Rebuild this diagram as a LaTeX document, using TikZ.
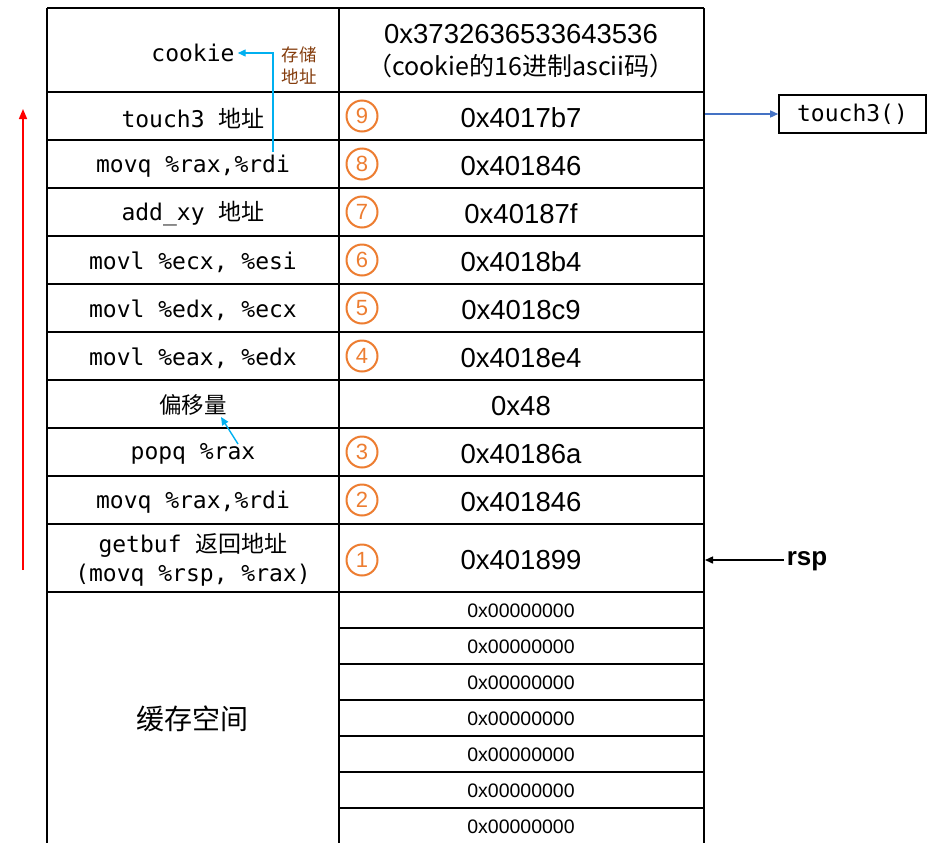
\documentclass[tikz,border=0pt]{standalone}
\usepackage{fontspec}
\setmainfont{Liberation Sans}
\newfontfamily\cjk{Noto Sans CJK SC}
\newfontfamily\mono{DejaVu Sans Mono}
\usetikzlibrary{arrows.meta}
\definecolor{orng}{HTML}{ED7D31}
\definecolor{cyanb}{HTML}{00B0F0}
\definecolor{blueb}{HTML}{4472C4}
\definecolor{brwn}{HTML}{843C0C}
\begin{document}
\begin{tikzpicture}[x=1pt,y=-1pt,
  gridline/.style={line width=1.6pt, black},
  lefttxt/.style={inner sep=3pt, font=\mono\fontsize{23pt}{29pt}\selectfont, align=center},
  hextxt/.style={inner sep=2pt, font=\fontsize{27.5pt}{32pt}\selectfont, align=center},
  zerotxt/.style={inner sep=2pt, font=\fontsize{19.5pt}{24pt}\selectfont},
  numcirc/.style={circle, draw=orng, line width=2pt, text=orng, minimum size=31pt, inner sep=0pt, font=\fontsize{22pt}{24pt}\selectfont},
  cyanarrow/.style={draw=cyanb, line width=1.4pt, -{Triangle[length=8pt,width=7pt]}},
  bluearrow/.style={draw=blueb, line width=1.4pt, -{Triangle[length=8pt,width=7pt]}},
  blackarrow/.style={draw=black, line width=1.5pt, -{Triangle[length=8pt,width=7pt]}},
  redarrow/.style={draw=red, line width=1.6pt, -{Triangle[length=10pt,width=8pt]}}
]
\useasboundingbox (0,0) rectangle (949,857);
\fill[white] (0,0) rectangle (949,857);

% grid
\draw[gridline] (47,8) -- (47,843);
\draw[gridline] (339,8) -- (339,843);
\draw[gridline] (704,8) -- (704,843);
\foreach \yy in {8,92,140,188,236,284,332,380,428,476,524,592}
  \draw[gridline] (47,\yy) -- (704,\yy);
\foreach \yy in {628,664,700,736,772,808}
  \draw[gridline] (339,\yy) -- (704,\yy);

% left column
\node[lefttxt] (cookie) at (193,53) {cookie};
\node[lefttxt] (l9) at (193,118) {touch3 {\cjk 地址}};
\node[lefttxt] (l8) at (193,166) {movq \%rax,\%rdi};
\node[lefttxt] (l7) at (193,214) {add\_xy {\cjk 地址}};
\node[lefttxt] (l6) at (193,262) {movl \%ecx, \%esi};
\node[lefttxt] (l5) at (193,310) {movl \%edx, \%ecx};
\node[lefttxt] (l4) at (193,358) {movl \%eax, \%edx};
\node[lefttxt, font=\cjk\fontsize{22.5pt}{26pt}\selectfont] (offs) at (193,405) {偏移量};
\node[lefttxt] (l3) at (193,454) {popq \%rax};
\node[lefttxt] (l2) at (193,502) {movq \%rax,\%rdi};
\node[lefttxt] (l1) at (193,560) {getbuf {\cjk 返回地址}\\(movq \%rsp, \%rax)};
\node[font=\cjk\fontsize{28pt}{32pt}\selectfont] (buf) at (192,719) {缓存空间};

% right column
\node[hextxt] (ck) at (521,51) {0x3732636533643536\\{\cjk\fontsize{25pt}{32pt}\selectfont （cookie的16进制ascii码）}};
\node[hextxt] (r9) at (521,118) {0x4017b7};
\node[hextxt] (r8) at (521,166) {0x401846};
\node[hextxt] (r7) at (521,214) {0x40187f};
\node[hextxt] (r6) at (521,262) {0x4018b4};
\node[hextxt] (r5) at (521,310) {0x4018c9};
\node[hextxt] (r4) at (521,358) {0x4018e4};
\node[hextxt] (r0) at (521,406) {0x48};
\node[hextxt] (r3) at (521,454) {0x40186a};
\node[hextxt] (r2) at (521,502) {0x401846};
\node[hextxt] (r1) at (521,560) {0x401899};

\node[numcirc] (c9) at (362,116) {9};
\node[numcirc] (c8) at (362,164) {8};
\node[numcirc] (c7) at (362,212) {7};
\node[numcirc] (c6) at (362,260) {6};
\node[numcirc] (c5) at (362,308) {5};
\node[numcirc] (c4) at (362,356) {4};
\node[numcirc] (c3) at (362,452) {3};
\node[numcirc] (c2) at (362,500) {2};
\node[numcirc] (c1) at (362,560) {1};

\foreach \i/\yy in {1/611,2/647,3/683,4/719,5/755,6/791,7/827}
  \node[zerotxt] (z\i) at (521,\yy) {0x00000000};

% annotations
\node[text=brwn, font=\cjk\fontsize{17.5pt}{22pt}\selectfont, align=center, inner sep=0pt] (store) at (299,66) {存储\\地址};
\coordinate (cstart) at (273,152);
\draw[cyanarrow] (cstart) |- (cookie.east);
\coordinate (ostart) at (238,444);
\coordinate (oend) at (221,417);
\draw[cyanarrow] (ostart) -- (oend);

\node[draw, line width=1.6pt, minimum width=147pt, minimum height=38pt, inner sep=0pt, font=\mono\fontsize{23pt}{26pt}\selectfont] (t3) at (852.5,114) {\raisebox{-1.5pt}{touch3()}};
\coordinate (t3src) at (705,114);
\draw[bluearrow] (t3src) -- (t3.west);

\node[font=\bfseries\fontsize{26pt}{30pt}\selectfont, inner sep=2pt] (rsp) at (807,561) {rsp};
\coordinate (rspend) at (705,560);
\draw[blackarrow] (rsp.west |- rspend) ++(-1,0) coordinate (rspstart) -- (rspend);

\coordinate (rs) at (23,570);
\coordinate (re) at (23,109);
\draw[redarrow] (rs) -- (re);
\end{tikzpicture}
\end{document}
